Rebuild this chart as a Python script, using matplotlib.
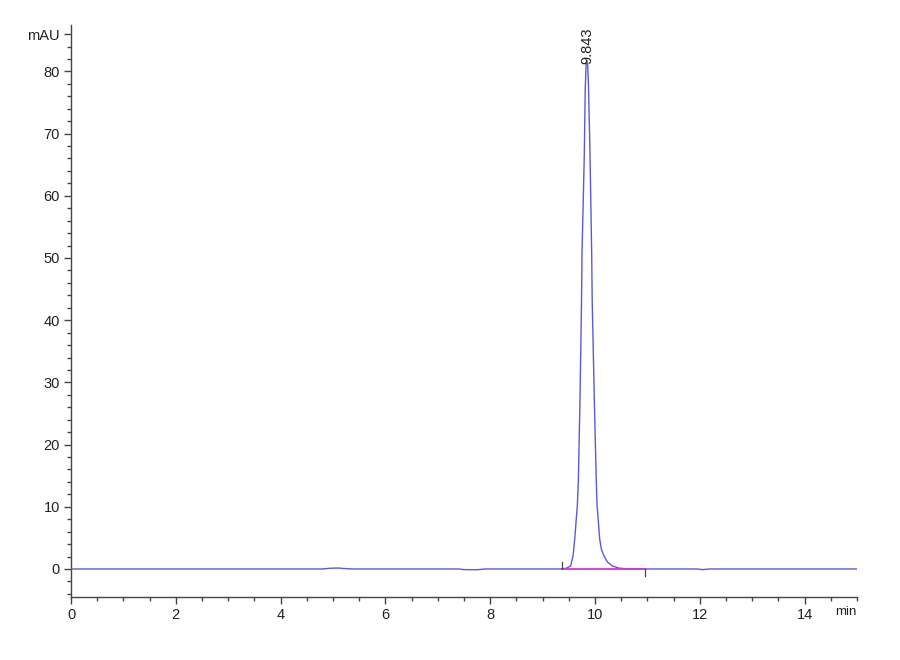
import matplotlib
matplotlib.use("Agg")
import matplotlib.pyplot as plt
from matplotlib.ticker import MultipleLocator

plt.rcParams['font.family'] = ['Liberation Sans', 'DejaVu Sans']

# Chromatogram trace (time in min, absorbance in mAU)
time_min = [0.0, 4.8, 4.95, 5.1, 5.25, 5.4, 7.4, 7.5, 7.75, 7.9, 9.3, 9.45,
            9.537, 9.581, 9.613, 9.663, 9.682, 9.714, 9.743, 9.752, 9.796,
            9.813, 9.83, 9.845, 9.86, 9.875, 9.905, 9.937, 9.947, 9.987,
            10.025, 10.04, 10.09, 10.12, 10.17, 10.24, 10.33, 10.45, 10.6,
            11.0, 11.95, 12.05, 12.2, 15.0]
signal_mau = [0.0, 0.0, 0.12, 0.15, 0.05, 0.0, 0.0, -0.1, -0.12, 0.0, 0.0, 0.1,
              0.5, 2.1, 4.8, 10.2, 14.0, 27.3, 43.0, 50.6, 66.7,
              76.9, 81.0, 81.8, 81.0, 78.0, 66.7, 50.6, 43.0, 27.3,
              14.0, 10.2, 4.8, 3.2, 2.1, 1.1, 0.5, 0.15, 0.03,
              0.0, 0.0, -0.1, 0.0, 0.0]

peak_rt = 9.843
peak_label = "9.843"
baseline_start = 9.37
baseline_end = 10.95

x_major = [0, 2, 4, 6, 8, 10, 12, 14]
y_major = [0, 10, 20, 30, 40, 50, 60, 70, 80, 86]
y_labels = ['0', '10', '20', '30', '40', '50', '60', '70', '80', 'mAU']

fig = plt.figure(figsize=(9, 6.6), dpi=100)
ax = fig.add_axes([0.0789, 0.0955, 0.8733, 0.867])

ax.plot(time_min, signal_mau, color='#5a5ad8', lw=1.0, zorder=3)
ax.plot([baseline_start, baseline_end], [0, 0], color='#e030d0', lw=1.3, zorder=4)
ax.plot([baseline_start, baseline_start], [0, 1.2], color='#444444', lw=0.9, zorder=5)
ax.plot([baseline_end, baseline_end], [0, -1.1], color='#444444', lw=0.9, zorder=5)

ax.text(peak_rt + 0.02, 81.2, peak_label, rotation=90, ha='center', va='bottom',
        fontsize=10.5, color='#222222')

ax.set_xlim(0, 15)
ax.set_ylim(-4.5, 87.5)
for s in ['top', 'right']:
    ax.spines[s].set_visible(False)
for s in ['left', 'bottom']:
    ax.spines[s].set_color('#444444')
    ax.spines[s].set_linewidth(1.0)

ax.set_xticks(x_major)
ax.xaxis.set_minor_locator(MultipleLocator(0.5))
ax.set_yticks(y_major)
ax.set_yticklabels(y_labels)
ax.yaxis.set_minor_locator(MultipleLocator(2))
ax.tick_params(axis='both', which='major', direction='out', length=5, width=1,
               color='#444444', labelsize=10.5, labelcolor='#222222', pad=3)
ax.tick_params(axis='both', which='minor', direction='out', length=3, width=1,
               color='#444444')
ax.text(15, -6.9, 'min', ha='right', va='center', fontsize=9.5, color='#222222')

fig.savefig('out.png', dpi=100)
